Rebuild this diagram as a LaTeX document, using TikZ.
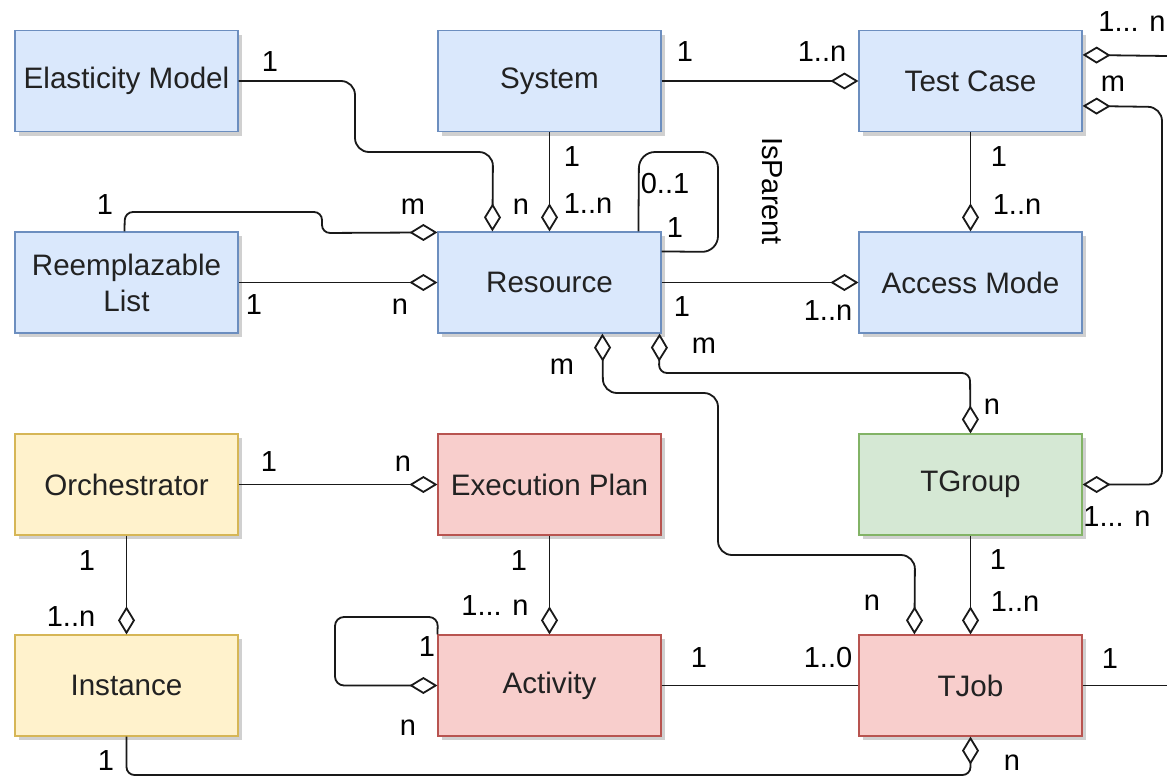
\documentclass[tikz,border=0pt]{standalone}
\usepackage{fontspec}
\setmainfont{Liberation Sans}
\usetikzlibrary{arrows.meta,calc,shadows}
\definecolor{bfill}{HTML}{DAE8FC}\definecolor{bdraw}{HTML}{6C8EBF}
\definecolor{rfill}{HTML}{F8CECC}\definecolor{rdraw}{HTML}{B85450}
\definecolor{yfill}{HTML}{FFF2CC}\definecolor{ydraw}{HTML}{D6B656}
\definecolor{gfill}{HTML}{D5E8D4}\definecolor{gdraw}{HTML}{82B366}
\definecolor{txt}{HTML}{222222}
\begin{document}
\begin{tikzpicture}[x={(0.5pt,0)}, y={(0,-0.5pt)},
  ent/.style={draw, line width=0.6pt, minimum width=111.5pt, minimum height=50.5pt, inner sep=0pt,
    align=center, text=txt, font=\fontsize{14.8pt}{18pt}\selectfont,
    drop shadow={shadow xshift=2pt, shadow yshift=-2pt, fill=black!30, opacity=0.6}},
  blue/.style={ent, fill=bfill, draw=bdraw},
  red/.style={ent, fill=rfill, draw=rdraw},
  yellow/.style={ent, fill=yfill, draw=ydraw},
  green/.style={ent, fill=gfill, draw=gdraw},
  conn/.style={line width=0.9pt, black!90},
  agg/.style={conn, -{Diamond[open, length=14pt, width=8.5pt]}},
  sagg/.style={conn, {Diamond[open, length=14pt, width=8.5pt]}-},
  bagg/.style={conn, {Diamond[open, length=14pt, width=8.5pt]}-{Diamond[open, length=14pt, width=8.5pt]}},
  lab/.style={inner sep=0pt, font=\fontsize{14.5pt}{17pt}\selectfont}]
\useasboundingbox[fill=white] (0,0) rectangle (1167,777);

% entities
\node[blue] (EM) at (126.5,81) {Elasticity Model};
\node[blue] (Sys) at (549.5,81) {System};
\node[blue] (TC) at (970.5,81) {Test Case};
\node[blue] (RL) at (126.5,282.5) {Reemplazable\\List};
\node[blue] (Res) at (549.5,282.5) {Resource};
\node[blue] (AM) at (970.5,282.5) {Access Mode};
\node[yellow] (Orch) at (126.5,484.5) {Orchestrator};
\node[red] (EP) at (549.5,484.5) {Execution Plan};
\node[green] (TG) at (970.5,484.5) {TGroup};
\node[yellow] (Inst) at (126.5,685.5) {Instance};
\node[red] (Act) at (549.5,685.5) {Activity};
\node[red] (TJob) at (970.5,685.5) {TJob};

\coordinate (e1) at (1167,56);
\coordinate (e2) at (1167,685.5);

% connectors
\draw[agg, rounded corners=7pt] (EM.east) -- (355,81) -- (355,152) -- (493,152) -- ($(Res.north west)+(55,0)$);
\draw[agg] (Sys.south) -- (Res.north);
\draw[agg] (Sys.east) -- (TC.west);
\draw[agg] (TC.south) -- (AM.north);
\draw[conn, rounded corners=8pt] ($(Res.north west)+(201,0)$) -- (639,152) -- (718,152) -- (718,252) -- ($(Res.north east)+(0,20)$);
\draw[agg, rounded corners=4pt] ($(RL.north west)+(110,0)$) -- (125,212) -- (322,212) -- (322,233) -- ($(Res.north west)+(0,1)$);
\draw[agg] (RL.east) -- (Res.west);
\draw[agg] (Res.east) -- (AM.west);
\draw[bagg, rounded corners=4pt] ($(Res.south east)+(-2,0)$) -- (659,373) -- (970,373) -- (TG.north);
\draw[bagg, rounded corners=7pt] ($(Res.south west)+(165,0)$) -- (603,393) -- (718,393) -- (718,555) -- (915,555) -- ($(TJob.north west)+(56,0)$);
\draw[agg] (TG.south) -- (TJob.north);
\draw[sagg] ($(TC.north east)+(0,25)$) -- (e1);
\draw[bagg, rounded corners=7pt] ($(TC.north east)+(0,76)$) -- (1162,107) -- (1162,484.5) -- (TG.east);
\draw[conn] (TJob.east) -- (e2);
\draw[agg] (Orch.east) -- (EP.west);
\draw[agg] (Orch.south) -- (Inst.north);
\draw[agg] (EP.south) -- (Act.north);
\draw[agg, rounded corners=4.5pt] (Act.north west) -- (438,617) -- (335,617) -- (335,685.5) -- (Act.west);
\draw[conn] (Act.east) -- (TJob.west);
\draw[agg, rounded corners=4pt] (Inst.south) -- (126.5,775) -- (970.5,775) -- (TJob.south);

% labels
\node[lab] (l1) at (270,62) {1};
\node[lab] (l2) at (521,207) {n};
\node[lab] (l3) at (572,157) {1};
\node[lab] (l4) at (588,204) {1..n};
\node[lab] (l5) at (685,52) {1};
\node[lab] (l6) at (822,52) {1..n};
\node[lab] (l7) at (999,157) {1};
\node[lab] (l8) at (1017,205) {1..n};
\node[lab] (l9) at (665,184) {0..1};
\node[lab] (l10) at (675,228) {1};
\node[lab, rotate=-90] (l11) at (772,191) {IsParent};
\node[lab] (l12) at (105,205) {1};
\node[lab] (l13) at (413,207) {m};
\node[lab] (l14) at (254,305) {1};
\node[lab] (l15) at (400,307) {n};
\node[lab] (l16) at (682,307) {1};
\node[lab] (l17) at (828,311) {1..n};
\node[lab] (l18) at (704,346) {m};
\node[lab] (l19) at (992,407) {n};
\node[lab] (l20) at (562,367) {m};
\node[lab] (l21) at (872,603) {n};
\node[lab] (l22) at (998,560) {1};
\node[lab] (l23) at (1015,602) {1..n};
\node[lab] (l24) at (1132,22) {1... n};
\node[lab] (l25) at (1113,84) {m};
\node[lab] (l26) at (1117,517) {1... n};
\node[lab] (l27) at (1110,659) {1};
\node[lab] (l28) at (269,462) {1};
\node[lab] (l29) at (403,464) {n};
\node[lab] (l30) at (87,561) {1};
\node[lab] (l31) at (71,617) {1..n};
\node[lab] (l32) at (519,561) {1};
\node[lab] (l33) at (495,606) {1... n};
\node[lab] (l34) at (427,647) {1};
\node[lab] (l35) at (408,728) {n};
\node[lab] (l36) at (699,658) {1};
\node[lab] (l37) at (828,658) {1..0};
\node[lab] (l38) at (106,761) {1};
\node[lab] (l39) at (1012,763) {n};
\end{tikzpicture}
\end{document}
